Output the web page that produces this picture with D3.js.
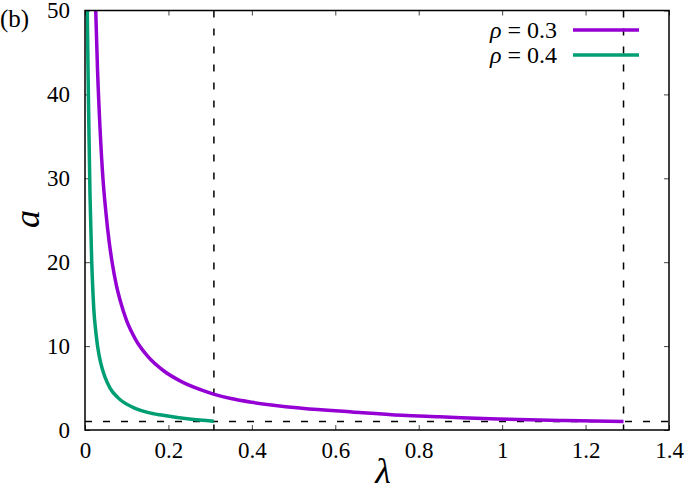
<!DOCTYPE html>
<html>
<head>
<meta charset="utf-8">
<script src="https://cdn.jsdelivr.net/npm/d3@7"></script>
</head>
<body style="margin:0; background:#fff">
<svg id="chart" width="690" height="490" font-family="serif"></svg>
<script>
// values
var lambdaRho03 = [0.0257, 0.030, 0.036, 0.043, 0.050, 0.058, 0.065, 0.075, 0.084, 0.100, 0.120, 0.150, 0.190, 0.230, 0.280, 0.310, 0.350, 0.400, 0.520, 0.640, 0.760, 0.850, 0.990, 1.150, 1.291];
var aRho03      = [50,     43,    36,    30,    26,    22.4,  20,    17.3,  15.5,  13,    10.9,  8.8,   7.0,   5.8,   4.75,  4.25,  3.75,  3.3,   2.6,   2.15,  1.75,  1.58,  1.3,   1.12,  1.0];

var lambdaRho04 = [0.0055, 0.0075, 0.0096, 0.012, 0.016, 0.021, 0.0264, 0.031, 0.0376, 0.048, 0.060, 0.080, 0.115, 0.150, 0.187, 0.250, 0.309];
var aRho04      = [50,     42,     35,     28,    20.3,  14.5,  11.5,   9.7,   8.0,    6.3,   5.0,   3.8,   2.7,   2.1,   1.75,  1.3,   1.05];

var seriesNames = ["0.3", "0.4"];
var seriesColors = ["#9400d3", "#009e73"];

var xTicks = [0, 0.2, 0.4, 0.6, 0.8, 1, 1.2, 1.4];
var xTickLabels = ["0", "0.2", "0.4", "0.6", "0.8", "1", "1.2", "1.4"];
var yTicks = [0, 10, 20, 30, 40, 50];

var vLines = [0.309, 1.291];
var hLines = [1];

var svgWidth = 690;
var svgHeight = 490;
var margin = { top: 10.5, right: 21, bottom: 60, left: 85 };
var width = svgWidth - margin.left - margin.right;
var height = svgHeight - margin.top - margin.bottom;

var svg = d3.select("#chart");

var chartGroup = svg.append("g")
  .attr("transform", `translate(${margin.left}, ${margin.top})`);

var xScale = d3.scaleLinear().domain([0, 1.4]).range([0, width]);
var yScale = d3.scaleLinear().domain([0, 50]).range([height, 0]);

chartGroup.append("clipPath").attr("id", "plotclip")
  .append("rect").attr("width", width).attr("height", height);

// axes, ticks inward and mirrored
function styleAxis(g) {
  g.attr("font-family", "serif").attr("font-size", 23);
  g.select(".domain").remove();
  g.selectAll(".tick line").attr("stroke", "#444").attr("stroke-width", 1);
  g.selectAll(".tick text").attr("fill", "#000");
}

chartGroup.append("g")
  .attr("transform", `translate(0, ${height})`)
  .call(d3.axisBottom(xScale).tickValues(xTicks).tickSize(-5).tickPadding(12)
    .tickFormat((d, i) => xTickLabels[i]))
  .call(styleAxis);

chartGroup.append("g")
  .call(d3.axisTop(xScale).tickValues(xTicks).tickSize(-5).tickFormat(""))
  .call(styleAxis);

chartGroup.append("g")
  .call(d3.axisLeft(yScale).tickValues(yTicks).tickSize(-5).tickPadding(15))
  .call(styleAxis);

chartGroup.append("g")
  .attr("transform", `translate(${width}, 0)`)
  .call(d3.axisRight(yScale).tickValues(yTicks).tickSize(-5).tickFormat(""))
  .call(styleAxis);

// dashed reference lines
chartGroup.selectAll(".vline").data(vLines).enter()
  .append("line")
  .attr("x1", d => xScale(d)).attr("x2", d => xScale(d))
  .attr("y1", 0).attr("y2", height)
  .attr("stroke", "#000").attr("stroke-width", 1.5)
  .attr("stroke-dasharray", "7,11");

chartGroup.selectAll(".hline").data(hLines).enter()
  .append("line")
  .attr("x1", 0).attr("x2", width)
  .attr("y1", d => yScale(d)).attr("y2", d => yScale(d))
  .attr("stroke", "#000").attr("stroke-width", 1.5)
  .attr("stroke-dasharray", "7,11");

// curves
var line = d3.line()
  .x(d => xScale(d[0]))
  .y(d => yScale(d[1]))
  .curve(d3.curveMonotoneX);

var curves = [
  d3.zip(lambdaRho03, aRho03),
  d3.zip(lambdaRho04, aRho04)
];

chartGroup.selectAll(".curve").data(curves).enter()
  .append("path")
  .attr("clip-path", "url(#plotclip)")
  .attr("d", line)
  .attr("fill", "none")
  .attr("stroke", (d, i) => seriesColors[i])
  .attr("stroke-width", 3.5)
  .attr("stroke-linejoin", "round");

// border
chartGroup.append("rect")
  .attr("width", width).attr("height", height)
  .attr("fill", "none").attr("stroke", "#000").attr("stroke-width", 1.5);

// legend
var legend = svg.append("g").attr("font-size", 24);
seriesNames.forEach(function(name, i) {
  var y = 30 + i * 25;
  var t = legend.append("text")
    .attr("x", 557).attr("y", y + 8)
    .attr("text-anchor", "end");
  t.append("tspan").attr("font-style", "italic").text("ρ");
  t.append("tspan").text(" = " + name);
  legend.append("line")
    .attr("x1", 573).attr("x2", 639)
    .attr("y1", y).attr("y2", y)
    .attr("stroke", seriesColors[i]).attr("stroke-width", 3.5);
});

// axis labels and panel tag
svg.append("text")
  .attr("transform", "translate(39, 219) rotate(-90)")
  .attr("text-anchor", "middle")
  .attr("font-size", 36).attr("font-style", "italic")
  .text("a");

svg.append("text")
  .attr("x", 383).attr("y", 483)
  .attr("text-anchor", "middle")
  .attr("font-size", 36).attr("font-style", "italic")
  .text("λ");

svg.append("text")
  .attr("x", 0).attr("y", 27)
  .attr("font-size", 25)
  .text("(b)");
</script>
</body>
</html>
